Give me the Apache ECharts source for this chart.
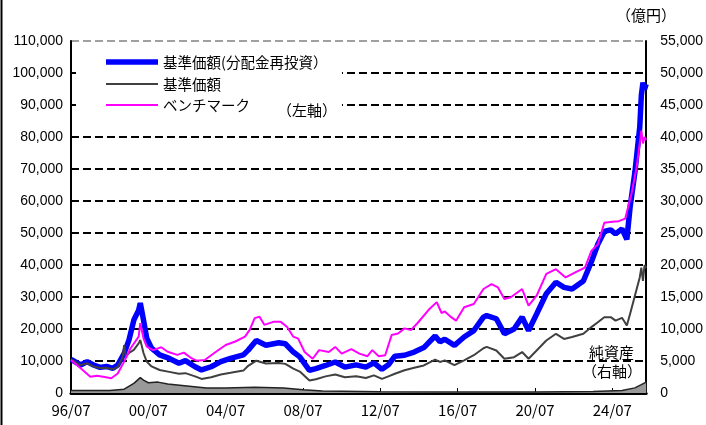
<!DOCTYPE html>
<html><head><meta charset="utf-8">
<script src="https://cdn.jsdelivr.net/npm/echarts@6/dist/echarts.min.js"></script>
<style>html,body{margin:0;padding:0;background:#fff;}#c{width:706px;height:425px;}</style>
</head><body><div id="c"></div>
<script>
// ---- data ----
const reinvestDates = ['1996/07','1997/01','1997/05','1997/09','1998/01','1998/05','1998/09','1998/12','1999/04','1999/07','1999/10','2000/01','2000/02','2000/04','2000/06','2000/09','2001/02','2001/08','2002/02','2002/06','2002/12','2003/04','2003/10','2004/04','2004/10','2005/06','2005/09','2006/02','2006/08','2007/04','2007/08','2008/01','2008/05','2008/11','2009/03','2009/09','2010/03','2010/09','2011/04','2011/10','2012/03','2012/08','2012/12','2013/04','2013/10','2014/04','2014/10','2015/05','2015/08','2015/11','2016/05','2016/11','2017/05','2017/11','2018/01','2018/07','2018/12','2019/06','2019/11','2020/03','2020/08','2021/02','2021/08','2022/01','2022/06','2023/01','2023/06','2023/10','2024/02','2024/06','2024/09','2025/01','2025/04','2025/06','2025/09','2025/12','2026/01','2026/02','2026/03','2026/04'];
const reinvestValues = [10500,8750,9800,8750,8000,8300,7700,8750,12400,16600,22800,25900,28100,22800,17100,14000,11900,10800,9300,10100,8200,7200,8200,9800,10800,11900,13400,16400,14900,15700,15400,12800,11300,7100,7600,8600,9700,8100,8800,8100,9400,7400,8800,11500,11800,12800,14200,17800,16000,16800,14900,17500,19500,23700,24200,23200,18500,20000,23700,19500,24700,31000,34600,33000,32500,35000,41000,46500,50500,51000,49700,51300,48000,58000,69000,83000,93000,97000,95000,96500];

const navDates = ['1996/07','1997/01','1997/05','1997/09','1998/01','1998/05','1998/09','1998/12','1999/03','1999/04','1999/05','1999/07','1999/10','2000/01','2000/02','2000/04','2000/06','2000/09','2001/02','2001/08','2002/02','2002/06','2002/12','2003/04','2003/10','2004/04','2004/10','2005/06','2005/09','2006/02','2006/08','2007/04','2007/08','2008/01','2008/05','2008/11','2009/03','2009/09','2010/03','2010/09','2011/04','2011/10','2012/03','2012/08','2012/12','2013/04','2013/10','2014/04','2014/10','2015/05','2015/08','2015/11','2016/05','2016/11','2017/05','2017/11','2018/01','2018/07','2018/12','2019/06','2019/11','2020/03','2020/08','2021/02','2021/08','2022/01','2022/06','2023/01','2023/06','2023/10','2024/02','2024/06','2024/09','2025/01','2025/04','2025/06','2025/09','2025/12','2026/01','2026/02','2026/03','2026/04'];
const navValues = [10500,8700,9300,8300,7800,7900,7400,8200,11000,15000,11500,12500,13500,15500,16600,12500,9800,8300,7200,6600,6000,6200,5200,4400,4900,5800,6300,7000,8500,10100,9200,9400,9100,7600,6700,3900,4300,5200,5800,4900,5200,4700,5500,4400,5200,6000,7100,7900,8600,10400,9700,10200,8700,10200,11800,14000,14400,13300,10700,11200,12800,10700,13300,16400,18500,16900,17500,18500,20600,22100,23700,23700,22600,23500,21100,24700,30400,36100,39200,35000,40000,39000];

const benchDates = ['1996/07','1997/01','1997/07','1997/11','1998/03','1998/08','1998/12','1999/04','1999/08','2000/01','2000/02','2000/04','2000/06','2000/10','2001/03','2001/07','2002/01','2002/05','2002/10','2003/01','2003/06','2004/01','2004/07','2005/01','2005/07','2005/10','2006/01','2006/04','2006/07','2007/01','2007/05','2007/09','2008/01','2008/04','2008/08','2009/01','2009/05','2009/11','2010/03','2010/07','2011/01','2011/06','2011/11','2012/02','2012/06','2012/10','2013/02','2013/06','2013/10','2014/02','2014/06','2015/01','2015/06','2015/09','2015/11','2016/03','2016/06','2016/11','2017/05','2017/11','2018/04','2018/08','2018/12','2019/04','2019/11','2020/03','2020/08','2021/02','2021/08','2022/02','2022/08','2023/02','2023/06','2023/10','2024/02','2024/07','2024/11','2025/03','2025/07','2025/10','2025/12','2026/01','2026/02','2026/03','2026/04'];
const benchValues = [10300,7700,5100,5400,5100,4600,6100,9800,14000,17600,21800,17100,14500,13400,14300,12900,11900,12600,10800,10100,10300,12900,15000,16100,17600,19800,23400,23800,21300,22300,22300,20700,17600,17000,12800,10700,13400,12800,14400,12300,13700,12300,11500,13400,11500,11800,18100,18600,20200,19700,21800,26000,28400,25000,25500,23700,22600,26800,27800,32500,34000,33000,29400,29900,32500,27300,30400,37200,38700,36100,37700,39200,44400,46500,53200,53500,53700,54500,62500,70300,78000,82000,78000,80000,79000];

const assetDates = ['1996/07','1998/07','1999/04','1999/10','2000/02','2000/04','2000/07','2001/01','2001/07','2002/07','2003/07','2004/07','2006/01','2007/07','2008/07','2009/07','2012/07','2016/07','2020/07','2023/07','2025/01','2025/09','2026/01','2026/04'];
const assetValues = [400,400,600,1500,2400,2000,1600,1700,1400,1100,800,800,900,800,500,300,200,150,150,250,400,800,1300,1700];

const legendNames = ['基準価額(分配金再投資）','基準価額','ベンチマーク'];
const xTickInterval = 48; // months (4 years)
const xMax = 357;         // months after 1996/07

function idx(d){ const [y,m]=d.split('/').map(Number); return (y-1996)*12+(m-7); }
function pairs(ds,vs){ return ds.map((d,i)=>[idx(d),vs[i]]); }
function fmtNum(v){ return v.toLocaleString('en-US'); }

const colors = ['#0000ff','#404040','#ff00ff'];
const widths = [5.5,2,2];
const legendY = [62,84,105];
const legendGraphics = [];
legendNames.forEach((n,i)=>{
  legendGraphics.push({type:'line',z:6,shape:{x1:106,y1:legendY[i],x2:158,y2:legendY[i]},style:{stroke:colors[i],lineWidth:widths[i]}});
  legendGraphics.push({type:'text',z:6,x:163,y:legendY[i],style:{text:n,fontSize:14.5,fontFamily:'Noto Sans CJK JP',fill:'#000',verticalAlign:'middle'}});
});

const chart = echarts.init(document.getElementById('c'));
const gridColors = Array(11).fill('#000').concat(['#a0a0a0']);
chart.setOption({
  animation:false,
  backgroundColor:'#fff',
  grid:{left:71,right:52,top:41,bottom:32},
  xAxis:{type:'value',min:0,max:xMax,interval:xTickInterval,
    axisLine:{lineStyle:{color:'#000',width:3}},
    axisTick:{inside:true,length:5,lineStyle:{color:'#000',width:1}},
    splitLine:{show:false},
    axisLabel:{margin:10,color:'#000',fontSize:15,fontFamily:'Noto Sans CJK JP',showMaxLabel:false,
      formatter:v=>{ if(v%48!==0) return ''; const t=6+v; const y=(1996+Math.floor(t/12))%100; const m=t%12+1; return String(y).padStart(2,'0')+'/'+String(m).padStart(2,'0'); }}},
  yAxis:[
    {type:'value',min:0,max:110000,interval:10000,
     axisLine:{show:true,lineStyle:{color:'#000',width:2}},
     axisTick:{show:false},
     splitLine:{show:true,lineStyle:{color:gridColors,width:2,type:[8,4]}},
     axisLabel:{margin:8,color:'#000',fontSize:14,fontFamily:'Liberation Sans',formatter:fmtNum}},
    {type:'value',min:0,max:55000,interval:5000,position:'right',
     axisLine:{show:true,lineStyle:{color:'#000',width:2}},
     axisTick:{show:false},splitLine:{show:false},
     axisLabel:{margin:14,color:'#000',fontSize:14,fontFamily:'Liberation Sans',formatter:fmtNum}}
  ],
  graphic:[
    {type:'rect',z:1,shape:{x:76,y:46,width:266,height:78},style:{fill:'#fff'}},
    ...legendGraphics,
    {type:'text',z:5,x:277,y:110,style:{text:'（左軸）',fontSize:15,fontFamily:'Noto Sans CJK JP',fill:'#000',verticalAlign:'middle'}},
    {type:'text',z:5,x:616,y:15,style:{text:'（億円）',fontSize:15,fontFamily:'Noto Sans CJK JP',fill:'#000',verticalAlign:'middle'}},
    {type:'text',z:5,x:589,y:352,style:{text:'純資産',fontSize:15,fontFamily:'Noto Sans CJK JP',fill:'#000',verticalAlign:'middle'}},
    {type:'text',z:5,x:582,y:371,style:{text:'（右軸）',fontSize:15,fontFamily:'Noto Sans CJK JP',fill:'#000',verticalAlign:'middle'}},
    {type:'line',z:5,shape:{x1:1.5,y1:0,x2:1.5,y2:425},style:{stroke:'#000',lineWidth:2}}
  ],
  series:[
    {name:'純資産',type:'line',yAxisIndex:1,data:pairs(assetDates,assetValues),showSymbol:false,symbol:'none',
     lineStyle:{color:'#222',width:1.5},areaStyle:{color:'#999',opacity:1},z:2},
    {name:legendNames[0],type:'line',data:pairs(reinvestDates,reinvestValues),showSymbol:false,symbol:'none',
     lineStyle:{color:colors[0],width:widths[0]},z:3},
    {name:legendNames[1],type:'line',data:pairs(navDates,navValues),showSymbol:false,symbol:'none',
     lineStyle:{color:colors[1],width:widths[1]},z:4},
    {name:legendNames[2],type:'line',data:pairs(benchDates,benchValues),showSymbol:false,symbol:'none',
     lineStyle:{color:colors[2],width:widths[2]},z:5}
  ]
});
</script></body></html>
